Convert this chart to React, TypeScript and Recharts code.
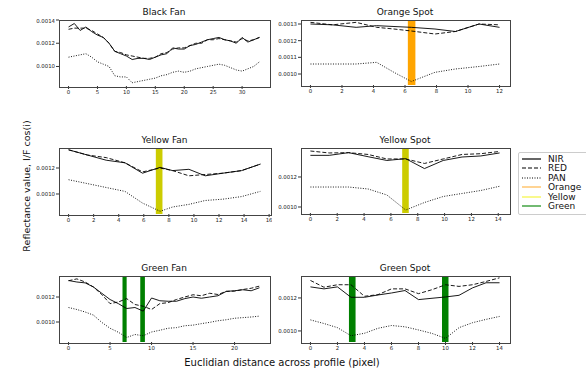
import React from "react"
import {
  LineChart,
  Line,
  XAxis,
  YAxis,
  ReferenceArea,
} from "recharts"

// Black Fan
const blackFanX = Array.from({ length: 34 }, (_, i) => i)
const blackFanNir = [
  0.00134, 0.00137, 0.00131, 0.00134, 0.0013, 0.00127, 0.00125, 0.0012, 0.00113, 0.00111,
  0.00109, 0.00106, 0.00107, 0.00107, 0.00106, 0.00108, 0.0011, 0.00111, 0.00116, 0.00115,
  0.00115, 0.00118, 0.00119, 0.00121, 0.00123, 0.00124, 0.00125, 0.00123, 0.00122, 0.0012,
  0.00125, 0.00121, 0.00123, 0.00125,
]
const blackFanRed = [
  0.00132, 0.00133, 0.00133, 0.00133, 0.00131, 0.00128, 0.00125, 0.0012, 0.00113, 0.00112,
  0.0011, 0.00109, 0.00108, 0.00107, 0.00107, 0.00108, 0.00111, 0.00112, 0.00115, 0.00116,
  0.00116, 0.00118, 0.0012, 0.0012, 0.00123, 0.00123, 0.00124, 0.00123, 0.00122, 0.00121,
  0.00124, 0.00122, 0.00123, 0.00125,
]
const blackFanPan = [
  0.00108, 0.00109, 0.0011, 0.00111, 0.00108, 0.00104, 0.00102, 0.001, 0.00092, 0.00091,
  0.00091, 0.00086, 0.00087, 0.00088, 0.00089, 0.0009, 0.00092, 0.00093, 0.00095, 0.00096,
  0.00095, 0.00096, 0.00098, 0.00099, 0.001, 0.00101, 0.00102, 0.00101, 0.00099, 0.00097,
  0.00096, 0.00098, 0.001, 0.00104,
]

// Orange Spot
const orangeSpotX = [0, 1.4, 2.9, 4.2, 5.3, 6.4, 7.9, 9.2, 10.7, 12]
const orangeSpotNir = [0.0013, 0.001295, 0.00128, 0.00129, 0.001285, 0.00128, 0.00127, 0.001255, 0.0013, 0.00128]
const orangeSpotRed = [0.00131, 0.001295, 0.00131, 0.00128, 0.00127, 0.001258, 0.00124, 0.001255, 0.0013, 0.001295]
const orangeSpotPan = [0.00106, 0.00106, 0.00106, 0.00107, 0.00101, 0.000955, 0.00101, 0.00103, 0.001045, 0.00106]

// Yellow Fan
const yellowFanX = [0, 1.5, 3.0, 4.5, 5.9, 7.3, 8.3, 9.6, 10.9, 12.3, 13.8, 15.3]
const yellowFanNir = [0.00134, 0.0013, 0.00126, 0.00124, 0.00116, 0.001205, 0.00118, 0.00119, 0.00114, 0.00116, 0.00118, 0.00123]
const yellowFanRed = [0.00134, 0.0013, 0.00128, 0.00124, 0.00117, 0.0012, 0.00118, 0.00114, 0.00115, 0.00116, 0.00118, 0.00123]
const yellowFanPan = [0.00111, 0.00108, 0.00105, 0.00102, 0.00093, 0.000867, 0.0009, 0.00092, 0.00095, 0.00096, 0.00098, 0.00102]

// Yellow Spot
const yellowSpotX = [0, 1.4, 2.85, 4.3, 5.7, 7.1, 8.5, 9.9, 11.3, 12.7, 14.1]
const yellowSpotNir = [0.001344, 0.001344, 0.001362, 0.001335, 0.00131, 0.001322, 0.001256, 0.00131, 0.001333, 0.00134, 0.00136]
const yellowSpotRed = [0.001373, 0.00136, 0.001362, 0.00135, 0.00132, 0.00132, 0.00129, 0.00132, 0.00135, 0.001355, 0.00137]
const yellowSpotPan = [0.001133, 0.001133, 0.001133, 0.00112, 0.00108, 0.00098, 0.00103, 0.00107, 0.00109, 0.00111, 0.001138]

// Green Fan
const greenFanX = Array.from({ length: 24 }, (_, i) => i)
const greenFanNir = [
  0.001332, 0.00132, 0.001313, 0.00128, 0.00123, 0.00118, 0.001147, 0.001108, 0.001116, 0.001087,
  0.001192, 0.00117, 0.001166, 0.001166, 0.001187, 0.0012, 0.00119, 0.0012, 0.00121, 0.001245,
  0.00125, 0.001258, 0.00125, 0.001274,
]
const greenFanRed = [
  0.00133, 0.001345, 0.00132, 0.00128, 0.00122, 0.001147, 0.00116, 0.001187, 0.00114, 0.001126,
  0.0011, 0.001147, 0.001155, 0.00118, 0.0012, 0.001218, 0.00121, 0.00123, 0.00122, 0.001245,
  0.001247, 0.00126, 0.00127, 0.001287,
]
const greenFanPan = [
  0.001116, 0.0011, 0.00108, 0.001055, 0.000997, 0.00095, 0.000918, 0.000876, 0.0009, 0.00089,
  0.00092, 0.000934, 0.00095, 0.000955, 0.00097, 0.000975, 0.000987, 0.000997, 0.00101, 0.001018,
  0.00103, 0.001035, 0.00104, 0.001047,
]

// Green Spot
const greenSpotX = Array.from({ length: 15 }, (_, i) => i)
const greenSpotNir = [
  0.001267, 0.001255, 0.001267, 0.001204, 0.001204, 0.001218, 0.00123, 0.001245, 0.00119, 0.001198,
  0.001206, 0.001216, 0.001261, 0.001292, 0.001292,
]
const greenSpotRed = [
  0.001306, 0.001265, 0.00128, 0.00128, 0.00121, 0.00122, 0.001255, 0.001255, 0.001226, 0.00125,
  0.00128, 0.00127, 0.00128, 0.0013, 0.001322,
]
const greenSpotPan = [
  0.001067, 0.001045, 0.00102, 0.000971, 0.000986, 0.001016, 0.001033, 0.001025, 0.001006, 0.000985,
  0.000955, 0.00102, 0.00105, 0.00107, 0.001088,
]

const legendItems = [
  { name: "NIR", color: "#000", dash: "" },
  { name: "RED", color: "#000", dash: "4 2" },
  { name: "PAN", color: "#000", dash: "1 1.5" },
  { name: "Orange", color: "#ffb84d", dash: "" },
  { name: "Yellow", color: "#f5f542", dash: "" },
  { name: "Green", color: "#158c15", dash: "" },
]

const FONT = "'DejaVu Sans', sans-serif"

interface Band {
  from: number
  to: number
  fill: string
}

interface PanelProps {
  title: string
  xs: number[]
  nir: number[]
  red: number[]
  pan: number[]
  xDomain: [number, number]
  yDomain: [number, number]
  xTicks: number[]
  yTicks: number[]
  bands: Band[]
  box: { x0: number; x1: number; y0: number; y1: number }
}

function Panel({ title, xs, nir, red, pan, xDomain, yDomain, xTicks, yTicks, bands, box }: PanelProps) {
  const data = xs.map((x, i) => ({ x, nir: nir[i], red: red[i], pan: pan[i] }))
  const yAxisW = 40
  const xAxisH = 14
  const pad = 2
  const w = box.x1 - box.x0 + yAxisW + pad
  const h = box.y1 - box.y0 + pad + xAxisH
  const tick = { fontSize: 5.4, fill: "#222", fontFamily: FONT }

  return (
    <>
      <div
        style={{
          position: "absolute",
          left: box.x0,
          width: box.x1 - box.x0,
          top: box.y0 - 14,
          textAlign: "center",
          fontSize: 9,
          fontFamily: FONT,
          color: "#111",
          lineHeight: "12px",
        }}
      >
        {title}
      </div>
      <div style={{ position: "absolute", left: box.x0 - yAxisW, top: box.y0 - pad }}>
        <LineChart width={w} height={h} data={data} margin={{ top: pad, right: pad, left: 0, bottom: 0 }}>
          <XAxis
            dataKey="x"
            type="number"
            domain={xDomain}
            ticks={xTicks}
            allowDataOverflow
            height={xAxisH}
            tick={tick}
            tickSize={3}
            tickMargin={1}
            axisLine={false}
            tickLine={{ stroke: "#333" }}
          />
          <YAxis
            type="number"
            domain={yDomain}
            ticks={yTicks}
            allowDataOverflow
            width={yAxisW}
            tick={tick}
            tickSize={3}
            tickMargin={1}
            axisLine={false}
            tickLine={{ stroke: "#333" }}
            tickFormatter={(v: number) => v.toFixed(4)}
          />
          <Line dataKey="pan" stroke="#000" strokeWidth={0.9} strokeDasharray="1 1.5" dot={false} isAnimationActive={false} />
          <Line dataKey="red" stroke="#000" strokeWidth={0.9} strokeDasharray="4 2" dot={false} isAnimationActive={false} />
          <Line dataKey="nir" stroke="#000" strokeWidth={0.9} dot={false} isAnimationActive={false} />
          {bands.map((b, i) => (
            <ReferenceArea key={i} x1={b.from} x2={b.to} fill={b.fill} fillOpacity={1} stroke="none" />
          ))}
        </LineChart>
      </div>
      <div
        style={{
          position: "absolute",
          left: box.x0 - 0.5,
          top: box.y0 - 0.5,
          width: box.x1 - box.x0,
          height: box.y1 - box.y0,
          border: "1px solid #444",
          pointerEvents: "none",
        }}
      />
    </>
  )
}

export default function App() {
  return (
    <div style={{ position: "absolute", left: 0, top: 0, width: 586, height: 370, background: "#fff", overflow: "hidden" }}>
      <Panel
        title="Black Fan"
        xs={blackFanX}
        nir={blackFanNir}
        red={blackFanRed}
        pan={blackFanPan}
        xDomain={[-1.65, 34.65]}
        yDomain={[0.000832, 0.0014]}
        xTicks={[0, 5, 10, 15, 20, 25, 30]}
        yTicks={[0.001, 0.0012, 0.0014]}
        bands={[]}
        box={{ x0: 59, x1: 269, y0: 20, y1: 86 }}
      />
      <Panel
        title="Orange Spot"
        xs={orangeSpotX}
        nir={orangeSpotNir}
        red={orangeSpotRed}
        pan={orangeSpotPan}
        xDomain={[-0.6, 12.6]}
        yDomain={[0.000934, 0.001324]}
        xTicks={[0, 2, 4, 6, 8, 10, 12]}
        yTicks={[0.001, 0.0011, 0.0012, 0.0013]}
        bands={[{ from: 6.18, to: 6.66, fill: "#ffa500" }]}
        box={{ x0: 301, x1: 509, y0: 20, y1: 85 }}
      />
      <Panel
        title="Yellow Fan"
        xs={yellowFanX}
        nir={yellowFanNir}
        red={yellowFanRed}
        pan={yellowFanPan}
        xDomain={[-0.765, 16.07]}
        yDomain={[0.000846, 0.001354]}
        xTicks={[0, 2, 4, 6, 8, 10, 12, 14, 16]}
        yTicks={[0.001, 0.0012]}
        bands={[{ from: 6.96, to: 7.49, fill: "#cccc00" }]}
        box={{ x0: 59, x1: 270, y0: 148, y1: 214 }}
      />
      <Panel
        title="Yellow Spot"
        xs={yellowSpotX}
        nir={yellowSpotNir}
        red={yellowSpotRed}
        pan={yellowSpotPan}
        xDomain={[-0.7, 14.8]}
        yDomain={[0.00096, 0.001393]}
        xTicks={[0, 2, 4, 6, 8, 10, 12, 14]}
        yTicks={[0.001, 0.0012]}
        bands={[{ from: 6.84, to: 7.33, fill: "#cccc00" }]}
        box={{ x0: 301, x1: 509, y0: 148, y1: 213 }}
      />
      <Panel
        title="Green Fan"
        xs={greenFanX}
        nir={greenFanNir}
        red={greenFanRed}
        pan={greenFanPan}
        xDomain={[-1.15, 24.15]}
        yDomain={[0.00084, 0.001368]}
        xTicks={[0, 5, 10, 15, 20]}
        yTicks={[0.001, 0.0012]}
        bands={[
          { from: 6.5, to: 7.0, fill: "#008000" },
          { from: 8.64, to: 9.2, fill: "#008000" },
        ]}
        box={{ x0: 59, x1: 269, y0: 276, y1: 342 }}
      />
      <Panel
        title="Green Spot"
        xs={greenSpotX}
        nir={greenSpotNir}
        red={greenSpotRed}
        pan={greenSpotPan}
        xDomain={[-0.7, 14.7]}
        yDomain={[0.000933, 0.001333]}
        xTicks={[0, 2, 4, 6, 8, 10, 12, 14]}
        yTicks={[0.001, 0.0012]}
        bands={[
          { from: 2.85, to: 3.34, fill: "#008000" },
          { from: 9.74, to: 10.22, fill: "#008000" },
        ]}
        box={{ x0: 301, x1: 509, y0: 276, y1: 342 }}
      />

      {/* shared axis labels */}
      <div
        style={{
          position: "absolute",
          left: 26,
          top: 186,
          transform: "translate(-50%, -50%) rotate(-90deg)",
          whiteSpace: "nowrap",
          fontSize: 9.5,
          fontFamily: FONT,
          color: "#111",
        }}
      >
        Reflectance value, I/F cos(i)
      </div>
      <div
        style={{
          position: "absolute",
          left: 282,
          top: 362,
          transform: "translate(-50%, -50%)",
          whiteSpace: "nowrap",
          fontSize: 10,
          fontFamily: FONT,
          color: "#111",
        }}
      >
        Euclidian distance across profile (pixel)
      </div>

      {/* legend */}
      <div
        style={{
          position: "absolute",
          left: 518,
          top: 152,
          width: 74,
          height: 63,
          border: "1px solid #ccc",
          borderRadius: 2,
          boxSizing: "border-box",
        }}
      />
      {legendItems.map((item, i) => (
        <div key={item.name} style={{ position: "absolute", left: 522, top: 159 + i * 9.4 - 5, height: 10 }}>
          <svg width={20} height={10} style={{ position: "absolute", left: 0, top: 0 }}>
            <line x1={0} x2={19} y1={5} y2={5} stroke={item.color} strokeWidth={1.2} strokeDasharray={item.dash || undefined} />
          </svg>
          <span
            style={{
              position: "absolute",
              left: 26,
              top: 0,
              lineHeight: "10px",
              fontSize: 9,
              fontFamily: FONT,
              color: "#111",
              whiteSpace: "nowrap",
            }}
          >
            {item.name}
          </span>
        </div>
      ))}
    </div>
  )
}
